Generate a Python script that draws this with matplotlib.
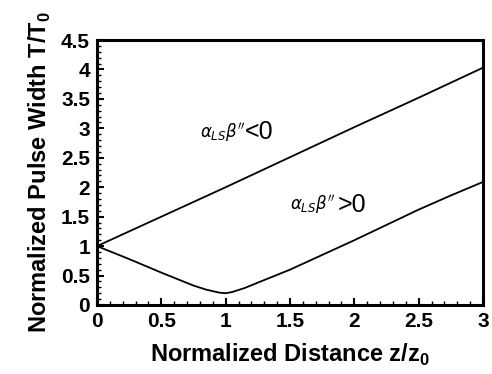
import matplotlib
matplotlib.use("Agg")
import matplotlib.pyplot as plt
from matplotlib.ticker import MultipleLocator

z_upper = [0.0, 0.5, 1.0, 1.5, 2.0, 2.5, 3.0]
t_upper = [1.0, 1.5, 2.0, 2.51, 3.02, 3.52, 4.03]

z_lower = [0.0, 0.25, 0.5, 0.75, 0.85, 0.95, 1.0, 1.05, 1.15, 1.25, 1.5, 1.75, 2.0, 2.25, 2.5, 2.75, 3.0]
t_lower = [1.0, 0.78, 0.55, 0.33, 0.26, 0.21, 0.2, 0.22, 0.29, 0.38, 0.6, 0.85, 1.1, 1.36, 1.62, 1.86, 2.09]

xticks = [0, 0.5, 1, 1.5, 2, 2.5, 3]
xticklabels = ["0", "0.5", "1", "1.5", "2", "2.5", "3"]
yticks = [0, 0.5, 1, 1.5, 2, 2.5, 3, 3.5, 4, 4.5]
yticklabels = ["0", "0.5", "1", "1.5", "2", "2.5", "3", "3.5", "4", "4.5"]

plt.rcParams['font.family'] = ['Liberation Sans', 'DejaVu Sans']

fig = plt.figure(figsize=(4.92, 3.74), dpi=100)
ax = fig.add_axes([97/492, 1 - 305/374, 386/492, 265/374])

ax.plot(z_upper, t_upper, color='black', lw=1.3)
ax.plot(z_lower, t_lower, color='black', lw=1.3)

ax.set_xlim(0, 3)
ax.set_ylim(0, 4.5)
ax.set_xticks(xticks)
ax.set_xticklabels(xticklabels, fontsize=15, fontweight='bold')
ax.set_yticks(yticks)
ax.set_yticklabels(yticklabels, fontsize=15, fontweight='bold')
ax.xaxis.set_minor_locator(MultipleLocator(0.1))
ax.yaxis.set_minor_locator(MultipleLocator(0.1))
ax.tick_params(which='major', direction='in', length=5, width=1.5, top=False, right=False, pad=5)
ax.tick_params(which='minor', direction='in', length=3, width=1.0, top=False, right=False)
for s in ax.spines.values():
    s.set_linewidth(2.2)

ax.set_xlabel("Normalized Distance z/z$_\\mathregular{0}$", fontsize=17, fontweight='bold', labelpad=8)
ax.set_ylabel("Normalized Pulse Width T/T$_\\mathregular{0}$", fontsize=17, fontweight='bold', labelpad=6)

ax.text(0.80, 2.93, r"$\alpha_{LS}\beta''$", fontsize=12, ha='left', va='center')
ax.text(1.15, 2.93, "<0", fontsize=18, ha='left', va='center')
ax.text(1.50, 1.70, r"$\alpha_{LS}\beta''$", fontsize=12, ha='left', va='center')
ax.text(1.87, 1.70, ">0", fontsize=18, ha='left', va='center')

fig.savefig("out.png", dpi=100)
